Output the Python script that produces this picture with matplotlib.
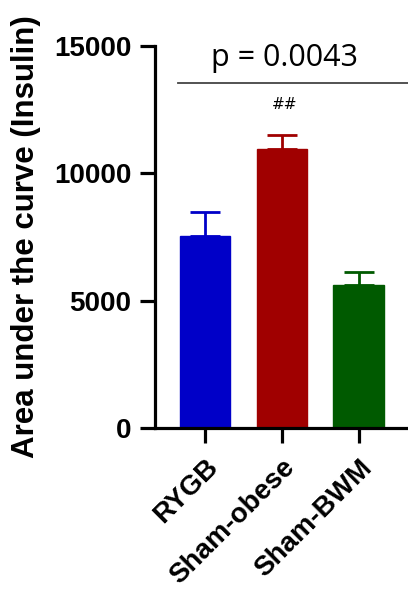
import matplotlib.pyplot as plt

groups = ["RYGB", "Sham-obese", "Sham-BWM"]
auc_means = [7550, 10950, 5600]
auc_sem = [930, 550, 520]
bar_colors = ["#0000c8", "#a00000", "#005a00"]
p_text = "p = 0.0043"
mark_text = "##"

fig = plt.figure(figsize=(4.08, 5.91), dpi=100)
ax = fig.add_axes([0.38, 0.2758, 0.62, 0.6465])

x = range(len(groups))
ax.bar(x, auc_means, width=0.66, color=bar_colors, edgecolor=bar_colors, linewidth=1, zorder=2)
for xi, m, e, c in zip(x, auc_means, auc_sem, bar_colors):
    ax.errorbar(xi, m, yerr=[[0], [e]], fmt="none", ecolor=c, elinewidth=2, capsize=11, capthick=2, zorder=1)

ax.set_ylim(0, 15000)
ax.set_xlim(-0.65, 2.64)
ax.set_yticks([0, 5000, 10000, 15000])
ax.set_xticks(list(x))
ax.set_xticklabels(groups, rotation=45, ha="right", rotation_mode="anchor")

for s in ["top", "right"]:
    ax.spines[s].set_visible(False)
for s in ["left", "bottom"]:
    ax.spines[s].set_linewidth(2.3)
ax.spines["left"].set_bounds(0, 15000)
ax.tick_params(axis="both", width=2.3, length=11, pad=6)
ax.tick_params(axis="x", pad=8)
for lab in ax.get_yticklabels():
    lab.set_fontsize(20)
for lab in ax.get_xticklabels():
    lab.set_fontsize(20)
for lab in ax.get_xticklabels() + ax.get_yticklabels():
    lab.set_fontweight("bold")
    lab.set_family("Liberation Sans")

ax.set_ylabel("Area under the curve (Insulin)", fontsize=22.5, fontweight="bold",
              family="Liberation Sans")
ax.yaxis.set_label_coords(-0.45, 0.5)

# significance line and labels
ax.plot([-0.35, 2.64], [13530, 13530], color="#444444", lw=1.3, clip_on=False)
ax.text(1.03, 13950, p_text, ha="center", va="bottom", fontsize=22, family="Open Sans")
ax.text(1.04, 12400, mark_text, ha="center", va="bottom", fontsize=11)

fig.savefig("out.png", dpi=100)
